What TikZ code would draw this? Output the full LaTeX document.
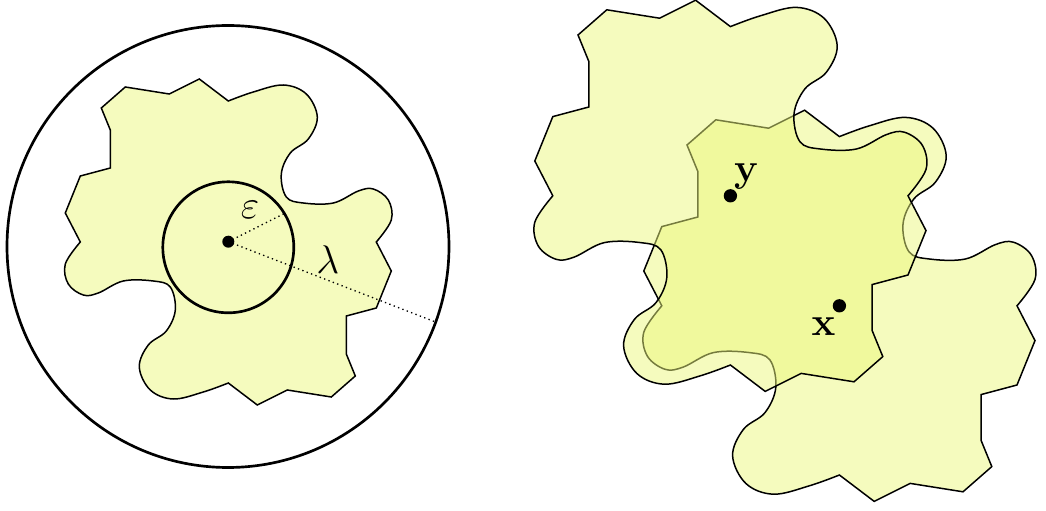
\documentclass[tikz,border=0pt]{standalone}
\usepackage{amsmath, amssymb, bm}
\usepackage{xcolor}
\usepackage{tikz}
\usetikzlibrary{positioning, calc}
\definecolor{BlobFill}{RGB}{235, 247, 125}

% one tile: two zig-zag sides, two wavy sides (symmetric under a half turn)
\newcommand{\blobpath}{(-148,0) -- (-163,29) -- (-148,66) -- (-118,74) -- (-118,112)
  -- (-127,134) -- (-103,155) -- (-59,148) -- (-29,163)
  -- plot[smooth, tension=0.6] coordinates {(0,141) (25,150) (55,157) (78,148) (89,125)
     (80,103) (62,89) (53,68) (58,45) (75,39) (105,39) (130,51) (145,53) (160,42) (163,22) (148,0)}
  -- (163,-29) -- (148,-66) -- (118,-74) -- (118,-112)
  -- (127,-134) -- (103,-155) -- (59,-148) -- (29,-163)
  -- plot[smooth, tension=0.6] coordinates {(0,-141) (-25,-150) (-55,-157) (-78,-148) (-89,-125)
     (-80,-103) (-62,-89) (-53,-68) (-58,-45) (-75,-39) (-105,-39) (-130,-51) (-145,-53) (-160,-42) (-163,-22) (-148,0)}
  -- cycle}

\begin{document}
\begin{tikzpicture}[x=0.3pt, y=0.3pt,
    blob/.style={fill=BlobFill, fill opacity=0.5, draw=black, line width=0.45pt},
    ring/.style={circle, draw, thick, inner sep=0pt},
    pt/.style={circle, fill, inner sep=0pt, minimum size=3.6pt}]
  \useasboundingbox (0,0) rectangle (1046,510);
  % left: the tile with the two balls
  \draw[blob, shift={(228.3,268)}] \blobpath;
  \node[ring, minimum size=132.6pt] (outer) at (228,263.5) {};
  \node[ring, minimum size=39.3pt] (inner) at (228.3,262.7) {};
  \node[pt] (ctr) at (228.3,268.3) {};
  \draw[densely dotted] (ctr.center) -- (inner.31);
  \draw[densely dotted] (ctr.center) -- (outer.-20);
  \node[font=\large] (eps) at (250,300) {$\varepsilon$};
  \node[font=\large] (lam) at (327.7,250) {$\lambda$};
  % right: two overlapping copies
  \draw[blob, shift={(839.4,204.2)}, scale=1.2] \blobpath;
  \draw[blob, shift={(730.4,314.2)}, scale=1.2] \blobpath;
  \node[pt, minimum size=4pt] (ptY) at (730.4,314.2) {};
  \node[pt, minimum size=4pt] (ptX) at (839.4,204.2) {};
  \node[font=\large] (labY) at ($(ptY)+(16,19)$) {$\mathbf{y}$};
  \node[font=\large] (labX) at ($(ptX)+(-16,-21)$) {$\mathbf{x}$};
\end{tikzpicture}
\end{document}
